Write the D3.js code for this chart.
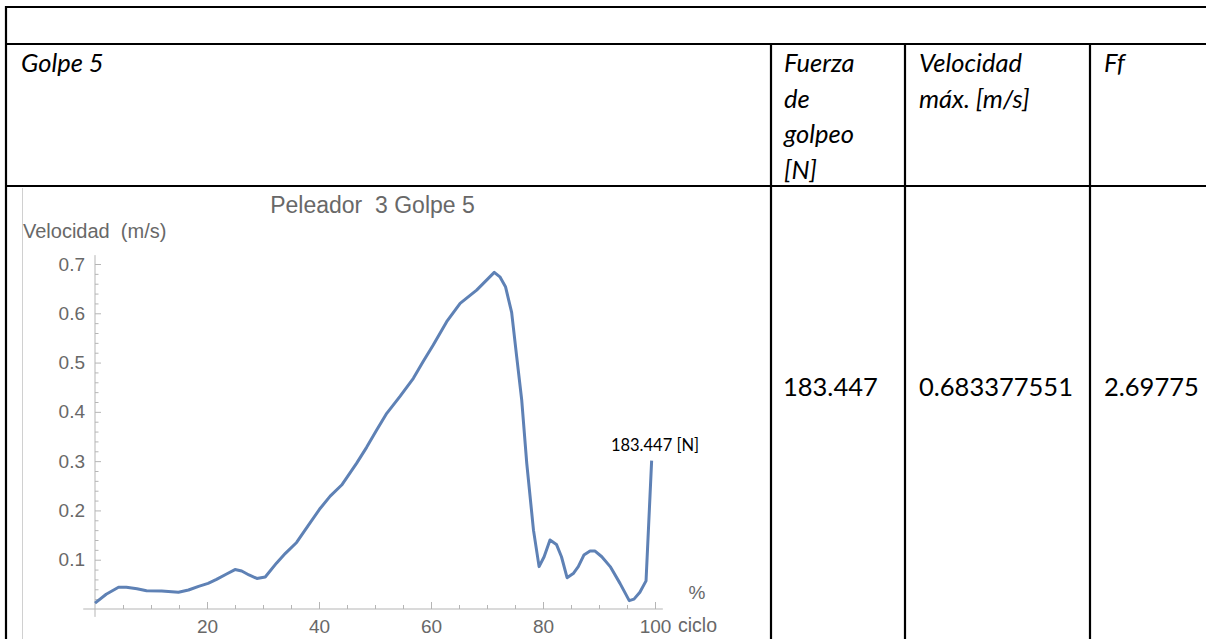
<!DOCTYPE html>
<html>
<head>
<meta charset="utf-8">
<script src="https://cdn.jsdelivr.net/npm/d3@7"></script>
<style>
  html, body { margin: 0; padding: 0; background: #fff; }
  svg { display: block; }
</style>
</head>
<body>
<svg id="chart" width="1206" height="639"></svg>
<script>
// ---- Data ----
const cicloPct = [0, 2, 4.2, 5.6, 7.5, 9.2, 11.9, 14.9, 16.7, 18.5, 20.2, 21.7, 23.5, 25, 26.2, 27.5, 28.9, 30.4, 32.4, 34, 36, 38, 40.2, 42, 44.05, 46.7, 48.5, 50.3, 52.1, 54.5, 56.85, 58.6, 60.4, 62.8, 65.2, 68.15, 71.3, 72.3, 73.3, 74.4, 75.3, 76.2, 77.1, 78.3, 79.3, 80.2, 81.25, 82.4, 83.3, 84.3, 85.4, 86.3, 87.3, 88.4, 89.3, 90.5, 92, 93.75, 95.4, 96.25, 97.3, 98.4, 99.4];
const velocidad = [0.012, 0.030, 0.044, 0.044, 0.041, 0.037, 0.0365, 0.034, 0.0385, 0.046, 0.052, 0.060, 0.071, 0.080, 0.077, 0.069, 0.062, 0.065, 0.093, 0.113, 0.135, 0.168, 0.204, 0.229, 0.2515, 0.2955, 0.328, 0.363, 0.397, 0.432, 0.468, 0.502, 0.5355, 0.583, 0.620, 0.647, 0.683, 0.674, 0.654, 0.602, 0.512, 0.424, 0.2955, 0.160, 0.086, 0.106, 0.140, 0.131, 0.106, 0.0635, 0.072, 0.086, 0.1095, 0.1176, 0.1176, 0.106, 0.086, 0.052, 0.017, 0.020, 0.034, 0.057, 0.301];
const xTickValues = [20, 40, 60, 80, 100];
const yTickValues = [0.1, 0.2, 0.3, 0.4, 0.5, 0.6, 0.7];
const chartTitle = "Peleador\u00a0 3 Golpe 5";
const yAxisLabel = "Velocidad\u00a0 (m/s)";
const forceLabel = "183.447 [N]";

const tableHeaderGolpe = "Golpe 5";
const headerFuerza = ["Fuerza", "de", "golpeo", "[N]"];
const headerVelocidad = ["Velocidad", "máx. [m/s]"];
const headerFf = ["Ff"];
const valueFuerza = "183.447";
const valueVelocidad = "0.683377551";
const valueFf = "2.69775";

// ---- Drawing ----
const svg = d3.select("#chart");

// Table grid
const tbl = svg.append("g").attr("stroke", "#000").attr("stroke-width", 2.2);
tbl.append("line").attr("x1", 5).attr("x2", 1206).attr("y1", 7).attr("y2", 7);
tbl.append("line").attr("x1", 5).attr("x2", 1206).attr("y1", 44).attr("y2", 44);
tbl.append("line").attr("x1", 5).attr("x2", 1206).attr("y1", 186).attr("y2", 186);
tbl.append("line").attr("x1", 6).attr("x2", 6).attr("y1", 6).attr("y2", 639);
[771, 905, 1090].forEach(x => tbl.append("line").attr("x1", x).attr("x2", x).attr("y1", 44).attr("y2", 639));

const tfont = "Lato, 'Open Sans', sans-serif";
const hdr = svg.append("g").attr("font-family", tfont).attr("font-style", "italic")
  .attr("font-size", 25.5).attr("fill", "#000");
hdr.append("text").attr("x", 21).attr("y", 72).text(tableHeaderGolpe);
headerFuerza.forEach((t, i) => hdr.append("text").attr("x", 784).attr("y", 72 + i * 35.5).text(t));
headerVelocidad.forEach((t, i) => hdr.append("text").attr("x", 919).attr("y", 72 + i * 35.5).text(t));
headerFf.forEach((t, i) => hdr.append("text").attr("x", 1104).attr("y", 72 + i * 35.5).text(t));

const vals = svg.append("g").attr("font-family", tfont).attr("font-size", 25.5).attr("fill", "#000");
vals.append("text").attr("x", 783).attr("y", 396).text(valueFuerza);
vals.append("text").attr("x", 919).attr("y", 396).text(valueVelocidad);
vals.append("text").attr("x", 1104).attr("y", 396).text(valueFf);

// Embedded chart image left edge
svg.append("line").attr("x1", 22.5).attr("x2", 22.5).attr("y1", 188).attr("y2", 639)
  .attr("stroke", "#d0d0d0").attr("stroke-width", 1);

// Scales
const x = d3.scaleLinear().domain([0, 100]).range([95, 655]);
const y = d3.scaleLinear().domain([0, 0.7]).range([609, 264]);

const cfont = "'Liberation Sans', Arial, sans-serif";
const axisColor = "#b5b5b5";
const labelColor = "#686868";

const plot = svg.append("g");

// Axis lines
plot.append("line").attr("x1", x(-2.1)).attr("x2", x(101.4)).attr("y1", y(0)).attr("y2", y(0))
  .attr("stroke", axisColor).attr("stroke-width", 1);
plot.append("line").attr("x1", x(0)).attr("x2", x(0)).attr("y1", y(-0.016)).attr("y2", y(0.718))
  .attr("stroke", axisColor).attr("stroke-width", 1);

// X axis major
const xAxisG = plot.append("g").attr("transform", `translate(0,${y(0)})`)
  .call(d3.axisBottom(x).tickValues(xTickValues).tickSize(-7).tickPadding(11).tickFormat(d3.format("d")));
// X minor
const xMinor = d3.range(5, 100, 5).filter(v => v % 20 !== 0);
const xMinorG = plot.append("g").attr("transform", `translate(0,${y(0)})`)
  .call(d3.axisBottom(x).tickValues(xMinor).tickSize(-4).tickFormat(""));

// Y axis major
const yAxisG = plot.append("g").attr("transform", `translate(${x(0)},0)`)
  .call(d3.axisLeft(y).tickValues(yTickValues).tickSize(-6).tickPadding(10).tickFormat(d3.format(".1f")));
// Y minor
const yMinor = d3.range(1, 36).map(i => i * 0.02).filter(v => Math.abs(v * 10 - Math.round(v * 10)) > 1e-6);
const yMinorG = plot.append("g").attr("transform", `translate(${x(0)},0)`)
  .call(d3.axisLeft(y).tickValues(yMinor).tickSize(-3.5).tickFormat(""));

[xAxisG, xMinorG, yAxisG, yMinorG].forEach(g => {
  g.select(".domain").remove();
  g.selectAll(".tick line").attr("stroke", axisColor).attr("stroke-width", 1);
  g.selectAll(".tick text").attr("fill", labelColor).attr("font-family", cfont).attr("font-size", 19);
});

// Line
const line = d3.line().x((d, i) => x(cicloPct[i])).y(d => y(d));
plot.append("path").datum(velocidad).attr("d", line)
  .attr("fill", "none").attr("stroke", "#5E81B5").attr("stroke-width", 3)
  .attr("stroke-linejoin", "round").attr("stroke-linecap", "butt");

// Annotation for the force
const lastI = cicloPct.length - 1;
plot.append("text").attr("x", x(cicloPct[lastI]) + 47.5).attr("y", y(velocidad[lastI]) - 10)
  .attr("text-anchor", "end").attr("font-family", tfont).attr("font-size", 16.5).attr("fill", "#000")
  .text(forceLabel);

// Titles and axis labels
plot.append("text").attr("x", 372.5).attr("y", 213).attr("text-anchor", "middle")
  .attr("font-family", cfont).attr("font-size", 23).attr("fill", labelColor).text(chartTitle);
plot.append("text").attr("x", 23).attr("y", 238)
  .attr("font-family", cfont).attr("font-size", 20).attr("fill", labelColor).text(yAxisLabel);
plot.append("text").attr("x", 697).attr("y", 599).attr("text-anchor", "middle")
  .attr("font-family", cfont).attr("font-size", 19).attr("fill", labelColor).text("%");
plot.append("text").attr("x", 678).attr("y", 632)
  .attr("font-family", cfont).attr("font-size", 19.5).attr("fill", labelColor).text("ciclo");
</script>
</body>
</html>
